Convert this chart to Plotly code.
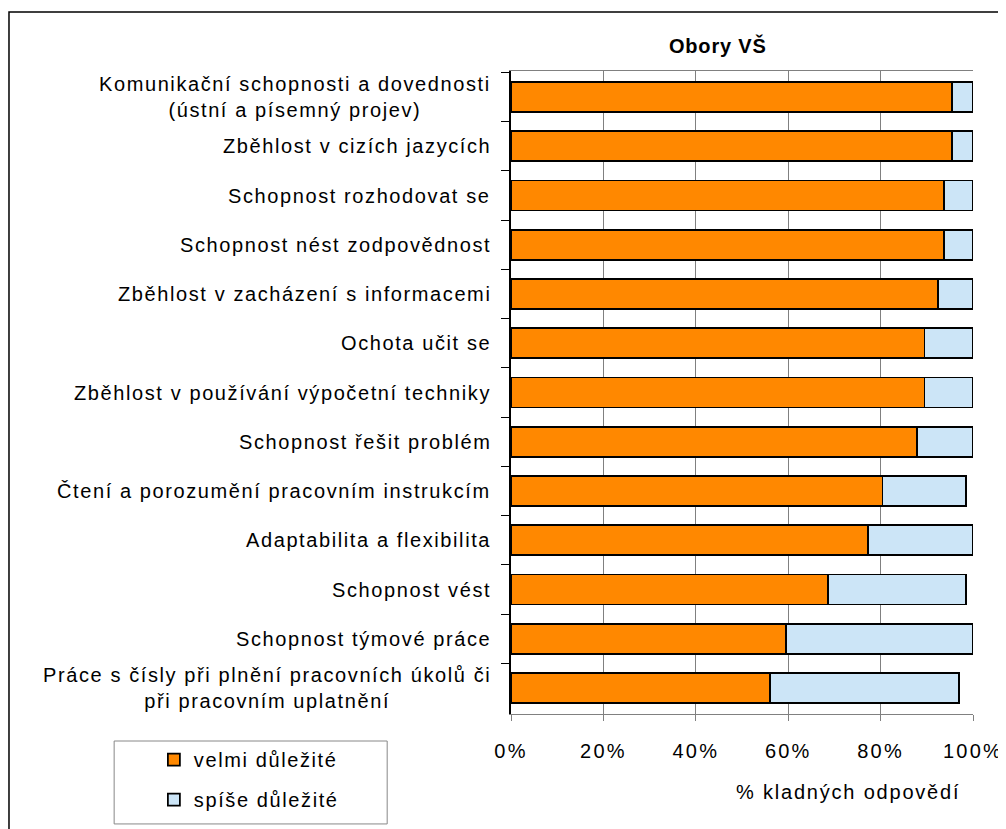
import plotly.graph_objects as go

categories = [
    "Komunikační schopnosti a dovednosti<br>(ústní a písemný projev)",
    "Zběhlost v cizích jazycích",
    "Schopnost rozhodovat se",
    "Schopnost nést zodpovědnost",
    "Zběhlost v zacházení s informacemi",
    "Ochota učit se",
    "Zběhlost v používání výpočetní techniky",
    "Schopnost řešit problém",
    "Čtení a porozumění pracovním instrukcím",
    "Adaptabilita a flexibilita",
    "Schopnost vést",
    "Schopnost týmové práce",
    "Práce s čísly při plnění pracovních úkolů či<br>při pracovním uplatnění",
]
velmi = [95.5, 95.5, 93.8, 93.8, 92.4, 89.5, 89.5, 87.8, 80.4, 77.3, 68.7, 59.6, 56.1]
spise = [4.5, 4.5, 6.2, 6.2, 7.6, 10.5, 10.5, 12.2, 18.1, 22.7, 29.8, 40.4, 40.9]
series_names = ["velmi důležité", "spíše důležité"]
x_ticks = [0, 20, 40, 60, 80, 100]
x_ticklabels = ["0%", "20%", "40%", "60%", "80%", "100%"]
title_text = "Obory VŠ"
x_title = "% kladných odpovědí"

FONT = "Liberation Sans, Arial, sans-serif"


def spaced(t, ls=1.6):
    return "<br>".join('<span style="letter-spacing:%spx">%s</span>' % (ls, p) for p in t.split("<br>"))


fig = go.Figure()
fig.add_trace(go.Bar(
    y=categories, x=velmi, orientation="h", name=spaced(series_names[0], 1.6),
    marker=dict(color="#FF8800", line=dict(color="black", width=1.8)),
    legendgroup="a",
))
fig.add_trace(go.Bar(
    y=categories, x=spise, orientation="h", name=spaced(series_names[1], 1.6),
    marker=dict(color="#CCE5F7", line=dict(color="black", width=1.8)),
    legendgroup="b",
))

for c in categories:
    fig.add_annotation(
        x=-0.04, xref="paper", y=c, yref="y", text=spaced(c, 1.6), showarrow=False,
        xanchor="right", yanchor="middle", align="center",
        font=dict(family=FONT, size=20, color="black"),
    )

fig.add_annotation(
    x=0.447, xref="paper", y=1.039, yref="paper", text="<b>" + spaced(title_text, 0.8) + "</b>",
    showarrow=False, xanchor="center", yanchor="middle",
    font=dict(family=FONT, size=20, color="black"),
)
fig.add_annotation(
    x=0.73, xref="paper", y=-0.122, yref="paper", text=spaced(x_title, 1.8),
    showarrow=False, xanchor="center", yanchor="middle",
    font=dict(family=FONT, size=20, color="black"),
)

fig.add_shape(type="rect", xref="paper", yref="paper",
              x0=-1.0866, x1=1.3, y0=-0.3, y1=1.0918,
              line=dict(color="black", width=1.5), fillcolor="rgba(0,0,0,0)", layer="below")
fig.add_shape(type="rect", xref="paper", yref="paper",
              x0=-0.859, x1=-0.268, y0=-0.171, y1=-0.042,
              line=dict(color="#888888", width=1), fillcolor="white")

fig.update_layout(
    width=1006, height=829,
    margin=dict(l=503, r=41, t=63, b=123),
    barmode="stack", bargap=0.39,
    plot_bgcolor="white", paper_bgcolor="white",
    font=dict(family=FONT, size=20, color="black"),
    showlegend=True,
    legend=dict(
        x=-0.773, y=-0.0407, xanchor="left", yanchor="top",
        bgcolor="rgba(0,0,0,0)", borderwidth=0,
        font=dict(family=FONT, size=20, color="black"),
        traceorder="grouped", tracegroupgap=11,
    ),
    xaxis=dict(
        range=[0, 100], tickvals=x_ticks, ticktext=[spaced(t, 2.2) for t in x_ticklabels],
        showgrid=True, gridcolor="#808080", gridwidth=1,
        showline=True, linecolor="#808080", linewidth=1, mirror=True,
        ticks="outside", ticklen=6, tickcolor="#808080",
        ticklabelstandoff=13, zeroline=False,
        tickfont=dict(family=FONT, size=20, color="black"),
    ),
    yaxis=dict(
        categoryorder="array", categoryarray=categories, autorange="reversed",
        showticklabels=False, showline=True, linecolor="black", linewidth=1.5,
        ticks="outside", ticklen=8, tickcolor="black", tickson="boundaries",
        showgrid=False, zeroline=False,
    ),
)

fig.write_html("out.html")
